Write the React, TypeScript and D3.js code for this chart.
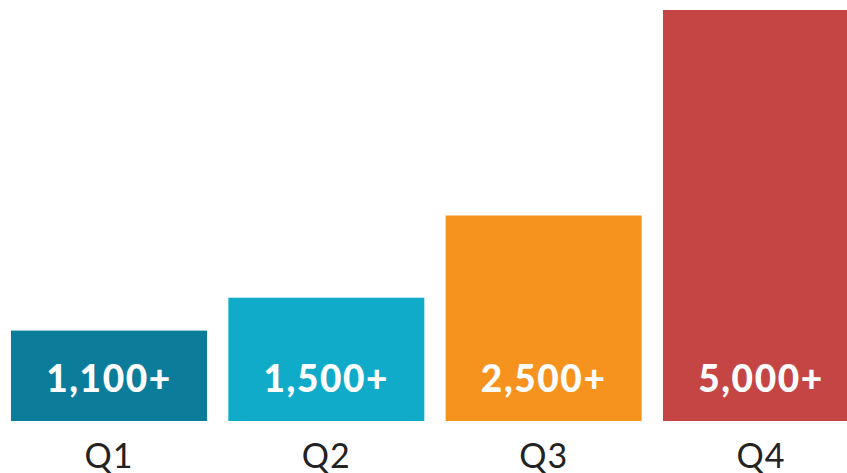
import React from "react";
import * as d3 from "d3";

const categories = ["Q1", "Q2", "Q3", "Q4"];
const values = [1100, 1500, 2500, 5000];
const valueLabels = ["1,100+", "1,500+", "2,500+", "5,000+"];
const colors = ["#0B7D9B", "#10ABC8", "#F6931E", "#C54545"];

const W = 847;
const H = 473;

export default function App() {
  const x = d3
    .scaleBand<string>()
    .domain(categories)
    .range([11, 859])
    .paddingInner(0.0982)
    .paddingOuter(0);
  const baseY = 421;
  const y = d3.scaleLinear().domain([0, 5000]).range([baseY, 10]);

  return (
    <div style={{ position: "absolute", left: 0, top: 0, width: W, height: H, overflow: "hidden", background: "#fff" }}>
      <svg width={W} height={H} style={{ display: "block" }}>
        {categories.map((c, i) => {
          const x0 = x(c)!;
          const bw = x.bandwidth();
          const cx = x0 + bw / 2;
          return (
            <g key={c}>
              <rect x={x0} y={y(values[i])} width={bw} height={baseY - y(values[i])} fill={colors[i]} />
              <text
                x={cx}
                y={baseY - 29}
                textAnchor="middle"
                fill="#fff"
                fontFamily="Lato, 'Open Sans', sans-serif"
                fontWeight={900}
                fontSize={37}
                letterSpacing={1.6}
              >
                {valueLabels[i]}
              </text>
              <text
                x={cx}
                y={468}
                textAnchor="middle"
                fill="#222"
                fontFamily="Lato, 'Open Sans', sans-serif"
                fontWeight={400}
                fontSize={34}
                letterSpacing={1}
              >
                {c}
              </text>
            </g>
          );
        })}
      </svg>
    </div>
  );
}
